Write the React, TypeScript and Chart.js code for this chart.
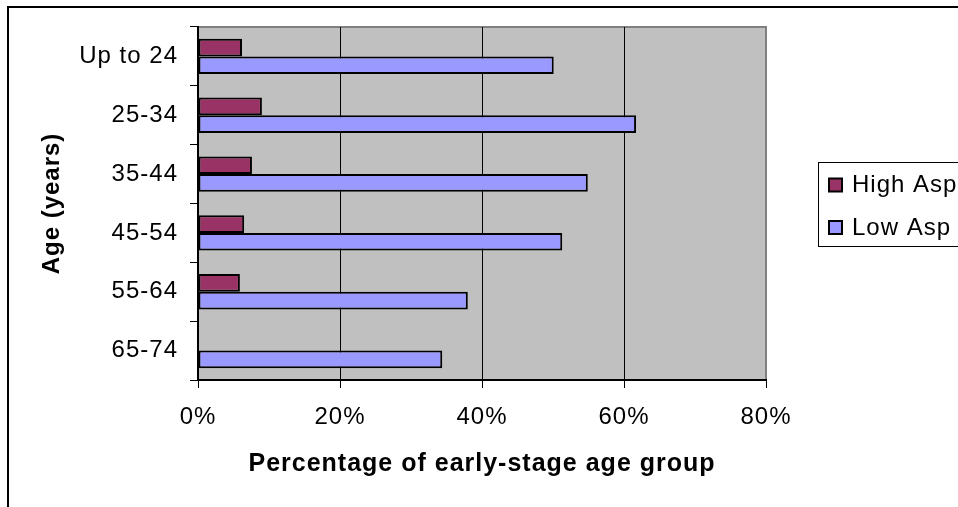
import React, { useEffect, useRef } from 'react';
import { Chart, registerables } from 'chart.js';

Chart.register(...registerables);

const categories = ['Up to 24', '25-34', '35-44', '45-54', '55-64', '65-74'];
const highAsp = [6.2, 9.0, 7.6, 6.5, 5.9, 0];
const lowAsp = [50.1, 61.7, 54.9, 51.3, 38.0, 34.4];
const seriesNames = ['High Asp', 'Low Asp'];
const xTicks = [0, 20, 40, 60, 80];
const xTitle = 'Percentage of early-stage age group';
const yTitle = 'Age (years)';

const FONT = "'Liberation Sans', Arial, Helvetica, sans-serif";

const decorPlugin = {
  id: 'decor',
  beforeDraw(chart: any) {
    const { ctx, chartArea: a } = chart;
    ctx.save();
    ctx.fillStyle = '#ffffff';
    ctx.fillRect(0, 0, chart.width, chart.height);
    ctx.fillStyle = '#C0C0C0';
    ctx.fillRect(a.left, a.top, a.right - a.left, a.bottom - a.top);
    ctx.strokeStyle = '#808080';
    ctx.lineWidth = 2;
    ctx.strokeRect(a.left, a.top, a.right - a.left, a.bottom - a.top);
    ctx.restore();
    (ctx as any).letterSpacing = '1px';
  },
  afterDraw(chart: any) {
    const { ctx } = chart;
    ctx.save();
    // outer chart border (top and left visible)
    ctx.strokeStyle = '#000';
    ctx.lineWidth = 2;
    ctx.beginPath();
    ctx.moveTo(8, chart.height + 5);
    ctx.lineTo(8, 7);
    ctx.lineTo(chart.width + 5, 7);
    ctx.stroke();

    // legend
    const lx = 818.5, ly = 162.5, lw = 200, lh = 84;
    ctx.fillStyle = '#fff';
    ctx.fillRect(lx, ly, lw, lh);
    ctx.strokeStyle = '#000';
    ctx.lineWidth = 1;
    ctx.strokeRect(lx, ly, lw, lh);
    ctx.font = `24px ${FONT}`;
    (ctx as any).letterSpacing = '1px';
    ctx.textBaseline = 'middle';
    ctx.textAlign = 'left';
    const rows = [185.5, 228];
    chart.data.datasets.forEach((ds: any, i: number) => {
      const cy = rows[i];
      ctx.fillStyle = ds.backgroundColor;
      ctx.fillRect(829, cy - 7, 13, 13);
      ctx.strokeStyle = '#000';
      ctx.lineWidth = 2;
      ctx.strokeRect(829, cy - 7, 13, 13);
      ctx.fillStyle = '#000';
      ctx.fillText(ds.label, 852, cy);
    });
    ctx.restore();
  },
};

export default function App() {
  const ref = useRef<HTMLCanvasElement>(null);
  useEffect(() => {
    if (!ref.current) return;
    const chart = new Chart(ref.current, {
      type: 'bar',
      data: {
        labels: categories,
        datasets: [
          {
            label: seriesNames[0],
            data: highAsp,
            backgroundColor: '#993366',
            borderColor: '#000',
            borderWidth: 2,
            borderSkipped: false,
          },
          {
            label: seriesNames[1],
            data: lowAsp,
            backgroundColor: '#9999FF',
            borderColor: '#000',
            borderWidth: 2,
            borderSkipped: false,
          },
        ],
      },
      options: {
        indexAxis: 'y',
        animation: false,
        responsive: false,
        devicePixelRatio: 1,
        datasets: { bar: { barPercentage: 1, categoryPercentage: 0.6 } },
        layout: { padding: { top: 27, right: 192, left: 0, bottom: 0 } },
        plugins: { legend: { display: false }, tooltip: { enabled: false } },
        scales: {
          x: {
            type: 'linear',
            min: 0,
            max: 80,
            afterBuildTicks: (s: any) => {
              s.ticks = xTicks.map((v) => ({ value: v }));
            },
            afterFit: (s: any) => {
              s.height = 127;
            },
            ticks: {
              callback: (v: any) => `${v}%`,
              color: '#000',
              font: { family: FONT, size: 24 },
              padding: 15,
              maxRotation: 0,
            },
            grid: {
              color: (c: any) => (c.tick && c.tick.value === 80 ? '#808080' : '#000'),
              lineWidth: 1,
              tickLength: 8,
              tickColor: '#000',
            },
            border: { color: '#000', width: 2 },
            title: {
              display: true,
              text: xTitle,
              color: '#000',
              font: { family: FONT, size: 25, weight: 'bold' },
              padding: { top: 0, bottom: 28 },
            },
          },
          y: {
            type: 'category',
            afterFit: (s: any) => {
              s.width = 198;
            },
            ticks: {
              color: '#000',
              font: { family: FONT, size: 24 },
              padding: 12,
            },
            grid: {
              drawOnChartArea: false,
              tickLength: 8,
              color: '#000',
              offset: true,
            },
            border: { color: '#000', width: 2 },
            title: {
              display: true,
              text: yTitle,
              color: '#000',
              font: { family: FONT, size: 24, weight: 'bold' },
              padding: { top: 38, bottom: 0 },
            },
          },
        },
      } as any,
      plugins: [decorPlugin],
    });
    return () => chart.destroy();
  }, []);
  return (
    <div style={{ position: 'absolute', left: 0, top: 0, width: 958, height: 507, overflow: 'hidden' }}>
      <canvas ref={ref} width={958} height={507} style={{ display: 'block' }} />
    </div>
  );
}
